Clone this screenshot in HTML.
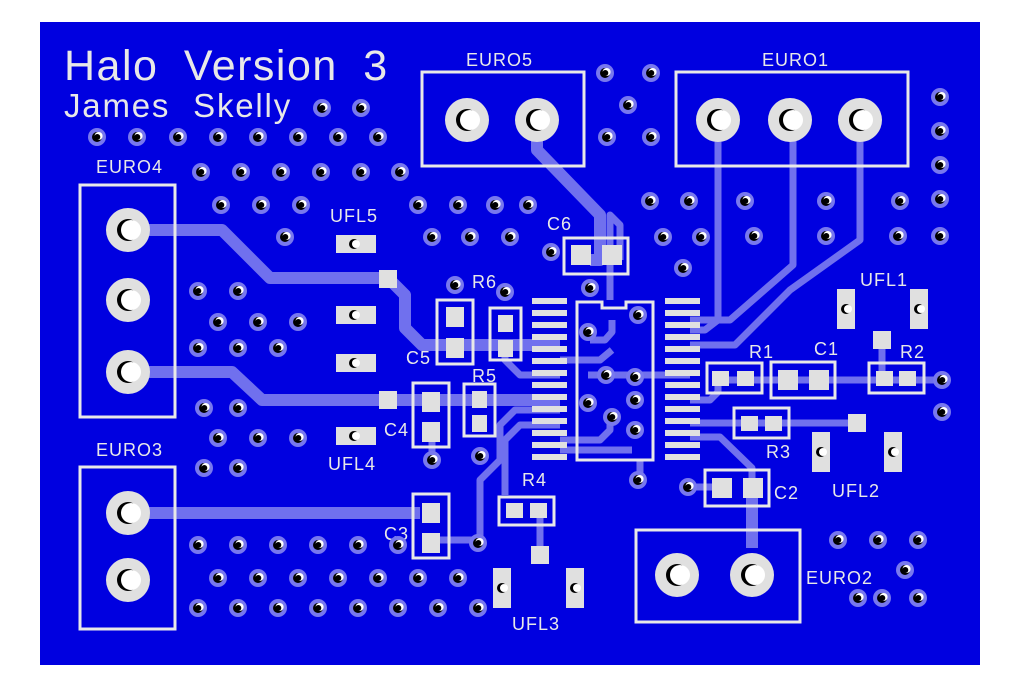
<!DOCTYPE html>
<html><head><meta charset="utf-8"><style>
html,body{margin:0;padding:0;background:#fff;}
svg{display:block;}
text{font-family:"Liberation Sans",sans-serif;fill:#e8e8e8;}
</style></head><body>
<svg width="1015" height="699" viewBox="0 0 1015 699" xmlns="http://www.w3.org/2000/svg">
<defs>
<g id="v"><circle r="9" fill="#7878ee"/><circle r="5" fill="#000"/><circle cx="1.6" cy="-1" r="4" fill="#fff"/><circle cx="0.3" cy="0" r="3" fill="#000"/></g>
<g id="P"><circle r="22" fill="#e0e0e0"/><circle r="11" fill="#000"/><circle cx="3" cy="0" r="10" fill="#fff"/></g>
<g id="h"><circle r="5" fill="#000"/><circle cx="2" cy="0" r="4" fill="#fff"/></g>
</defs>
<rect x="40" y="22" width="940" height="643" fill="#0000e0"/>

<!-- traces -->
<g fill="none" stroke="#7070ee" stroke-width="12" stroke-linejoin="round">
<path d="M128 230 H222 L270 278 H388 L405 295 V328 L422 345 H560"/>
<path d="M128 372 H232 L262 400 H560"/>
<path d="M128 513 H420"/>
<path d="M537 122 V150 L600 215 V260 H590"/>
<path d="M752 548 V490"/>
</g>
<g fill="none" stroke="#7070ee" stroke-width="7" stroke-linejoin="round">
<path d="M718 120 V320 L705 330 H690"/>
<path d="M793 120 V265 L730 320 H690"/>
<path d="M860 120 V240 L790 290 L735 345 H690"/>
<path d="M718 380 V392 L710 400 H690"/>
<path d="M720 380 H945"/>
<path d="M690 423 H860"/>
<path d="M690 437 H720 L752 468 V490"/>
<path d="M505 345 V360 L520 375 H560"/>
<path d="M560 410 H515 L500 425 V460 L480 480 V540 H440"/>
<path d="M560 425 H520 L505 440 V495"/>
<path d="M620 260 V225 L610 215 V300"/>
<path d="M590 340 H605 L612 332 V320"/>
<path d="M560 360 H600 L612 350"/>
<path d="M610 410 V430 L600 440 H560"/>
<path d="M632 450 H560"/>
<path d="M588 375 H690"/>
<path d="M882 340 V380"/>
<path d="M540 510 V555"/>
<path d="M432 440 V460"/>
<path d="M690 487 H720"/>
<path d="M640 460 V478"/>
</g>

<!-- text -->
<text x="64" y="80" font-size="43" letter-spacing="1.5" word-spacing="12">Halo Version 3</text>
<text x="64" y="117" font-size="33" letter-spacing="1.8" word-spacing="12">James Skelly</text>
<g font-size="18" letter-spacing="1">
<text x="96" y="173">EURO4</text>
<text x="96" y="456">EURO3</text>
<text x="466" y="66">EURO5</text>
<text x="762" y="66">EURO1</text>
<text x="806" y="584">EURO2</text>
<text x="330" y="222">UFL5</text>
<text x="328" y="470">UFL4</text>
<text x="512" y="630">UFL3</text>
<text x="860" y="286">UFL1</text>
<text x="832" y="497">UFL2</text>
<text x="547" y="230">C6</text>
<text x="472" y="288">R6</text>
<text x="406" y="364">C5</text>
<text x="472" y="382">R5</text>
<text x="384" y="436">C4</text>
<text x="384" y="540">C3</text>
<text x="522" y="486">R4</text>
<text x="749" y="358">R1</text>
<text x="814" y="355">C1</text>
<text x="900" y="358">R2</text>
<text x="766" y="458">R3</text>
<text x="774" y="499">C2</text>
</g>

<!-- silk outlines -->
<g fill="none" stroke="#e8e8e8" stroke-width="3">
<rect x="80" y="185" width="95" height="232"/>
<rect x="80" y="467" width="95" height="162"/>
<rect x="422" y="72" width="162" height="94"/>
<rect x="676" y="72" width="232" height="94"/>
<rect x="636" y="530" width="164" height="92"/>
<rect x="564" y="238" width="64" height="36"/>
<rect x="437" y="300" width="36" height="64"/>
<rect x="490" y="308" width="31" height="52"/>
<rect x="413" y="383" width="36" height="64"/>
<rect x="464" y="384" width="31" height="52"/>
<rect x="413" y="494" width="36" height="64"/>
<rect x="499" y="497" width="55" height="28"/>
<path d="M577 302 H602 V308 H626 V302 H653 V460 H577 Z"/>
<rect x="707" y="363" width="55" height="30"/>
<rect x="771" y="362" width="64" height="36"/>
<rect x="869" y="363" width="55" height="30"/>
<rect x="734" y="408" width="55" height="30"/>
<rect x="705" y="470" width="64" height="36"/>
</g>
<!-- IC pins -->
<g fill="#e0e0e0">
<rect x="532" y="298" width="35" height="6"/><rect x="532" y="310" width="35" height="6"/><rect x="532" y="322" width="35" height="6"/><rect x="532" y="334" width="35" height="6"/><rect x="532" y="346" width="35" height="6"/><rect x="532" y="358" width="35" height="6"/><rect x="532" y="370" width="35" height="6"/><rect x="532" y="382" width="35" height="6"/><rect x="532" y="394" width="35" height="6"/><rect x="532" y="406" width="35" height="6"/><rect x="532" y="418" width="35" height="6"/><rect x="532" y="430" width="35" height="6"/><rect x="532" y="442" width="35" height="6"/><rect x="532" y="454" width="35" height="6"/>
<rect x="665" y="298" width="35" height="6"/><rect x="665" y="310" width="35" height="6"/><rect x="665" y="322" width="35" height="6"/><rect x="665" y="334" width="35" height="6"/><rect x="665" y="346" width="35" height="6"/><rect x="665" y="358" width="35" height="6"/><rect x="665" y="370" width="35" height="6"/><rect x="665" y="382" width="35" height="6"/><rect x="665" y="394" width="35" height="6"/><rect x="665" y="406" width="35" height="6"/><rect x="665" y="418" width="35" height="6"/><rect x="665" y="430" width="35" height="6"/><rect x="665" y="442" width="35" height="6"/><rect x="665" y="454" width="35" height="6"/>
<!-- SMD pads -->
<rect x="571" y="245" width="20" height="20"/><rect x="602" y="245" width="20" height="20"/>
<rect x="446" y="307" width="18" height="20"/><rect x="446" y="338" width="18" height="20"/>
<rect x="498" y="315" width="15" height="17"/><rect x="498" y="340" width="15" height="17"/>
<rect x="422" y="392" width="18" height="20"/><rect x="422" y="422" width="18" height="20"/>
<rect x="472" y="391" width="15" height="17"/><rect x="472" y="415" width="15" height="17"/>
<rect x="422" y="503" width="18" height="20"/><rect x="422" y="533" width="18" height="20"/>
<rect x="506" y="503" width="17" height="15"/><rect x="530" y="503" width="17" height="15"/>
<rect x="712" y="371" width="17" height="15"/><rect x="737" y="371" width="17" height="15"/>
<rect x="778" y="370" width="20" height="20"/><rect x="809" y="370" width="20" height="20"/>
<rect x="876" y="371" width="17" height="15"/><rect x="899" y="371" width="17" height="15"/>
<rect x="741" y="416" width="17" height="15"/><rect x="765" y="416" width="17" height="15"/>
<rect x="712" y="478" width="20" height="20"/><rect x="743" y="478" width="20" height="20"/>
<!-- square test pads -->
<rect x="379" y="270" width="18" height="18"/><rect x="379" y="391" width="18" height="18"/>
<rect x="873" y="331" width="18" height="18"/><rect x="848" y="414" width="18" height="18"/>
<rect x="531" y="546" width="18" height="18"/>
<!-- UFL pads -->
<rect x="336" y="235" width="40" height="18"/><rect x="336" y="306" width="40" height="18"/><rect x="336" y="354" width="40" height="18"/><rect x="336" y="427" width="40" height="18"/>
<rect x="837" y="289" width="18" height="40"/><rect x="910" y="289" width="18" height="40"/>
<rect x="812" y="432" width="18" height="40"/><rect x="884" y="432" width="18" height="40"/>
<rect x="493" y="568" width="18" height="40"/><rect x="566" y="568" width="18" height="40"/>
</g>
<g>
<use href="#h" x="354" y="244"/><use href="#h" x="354" y="315"/><use href="#h" x="354" y="363"/><use href="#h" x="354" y="436"/>
<use href="#h" x="846" y="309"/><use href="#h" x="919" y="309"/><use href="#h" x="821" y="452"/><use href="#h" x="893" y="452"/>
<use href="#h" x="502" y="588"/><use href="#h" x="575" y="588"/>
</g>

<!-- big pads -->
<use href="#P" x="128" y="230"/><use href="#P" x="128" y="300"/><use href="#P" x="128" y="372"/>
<use href="#P" x="128" y="513"/><use href="#P" x="128" y="580"/>
<use href="#P" x="467" y="120"/><use href="#P" x="537" y="120"/>
<use href="#P" x="718" y="120"/><use href="#P" x="790" y="120"/><use href="#P" x="860" y="120"/>
<use href="#P" x="677" y="575"/><use href="#P" x="752" y="575"/>

<!-- vias -->
<g>
<use href="#v" x="322" y="108"/><use href="#v" x="361" y="108"/>
<use href="#v" x="97" y="137"/><use href="#v" x="137" y="137"/><use href="#v" x="178" y="137"/><use href="#v" x="218" y="137"/><use href="#v" x="258" y="137"/><use href="#v" x="298" y="137"/><use href="#v" x="338" y="137"/><use href="#v" x="378" y="137"/>
<use href="#v" x="201" y="172"/><use href="#v" x="241" y="172"/><use href="#v" x="281" y="172"/><use href="#v" x="321" y="172"/><use href="#v" x="361" y="172"/><use href="#v" x="400" y="172"/>
<use href="#v" x="221" y="205"/><use href="#v" x="261" y="205"/><use href="#v" x="301" y="205"/><use href="#v" x="418" y="205"/><use href="#v" x="458" y="205"/><use href="#v" x="495" y="205"/><use href="#v" x="528" y="205"/>
<use href="#v" x="285" y="237"/><use href="#v" x="432" y="237"/><use href="#v" x="470" y="237"/><use href="#v" x="510" y="237"/><use href="#v" x="551" y="252"/>
<use href="#v" x="605" y="73"/><use href="#v" x="651" y="73"/><use href="#v" x="628" y="105"/><use href="#v" x="607" y="137"/><use href="#v" x="651" y="137"/>
<use href="#v" x="940" y="97"/><use href="#v" x="940" y="131"/><use href="#v" x="940" y="165"/><use href="#v" x="940" y="199"/><use href="#v" x="940" y="236"/>
<use href="#v" x="650" y="201"/><use href="#v" x="689" y="201"/><use href="#v" x="663" y="237"/><use href="#v" x="701" y="237"/><use href="#v" x="683" y="268"/>
<use href="#v" x="745" y="201"/><use href="#v" x="826" y="201"/><use href="#v" x="900" y="201"/><use href="#v" x="754" y="236"/><use href="#v" x="826" y="236"/><use href="#v" x="898" y="236"/>
<use href="#v" x="455" y="285"/><use href="#v" x="505" y="292"/><use href="#v" x="590" y="288"/>
<use href="#v" x="198" y="291"/><use href="#v" x="238" y="291"/><use href="#v" x="218" y="322"/><use href="#v" x="258" y="322"/><use href="#v" x="298" y="322"/><use href="#v" x="198" y="348"/><use href="#v" x="238" y="348"/><use href="#v" x="278" y="348"/>
<use href="#v" x="204" y="408"/><use href="#v" x="238" y="408"/><use href="#v" x="218" y="438"/><use href="#v" x="258" y="438"/><use href="#v" x="298" y="438"/><use href="#v" x="204" y="468"/><use href="#v" x="238" y="468"/>
<use href="#v" x="638" y="315"/><use href="#v" x="588" y="332"/><use href="#v" x="606" y="375"/><use href="#v" x="635" y="377"/><use href="#v" x="635" y="400"/><use href="#v" x="588" y="403"/><use href="#v" x="612" y="417"/><use href="#v" x="635" y="430"/>
<use href="#v" x="432" y="460"/><use href="#v" x="480" y="456"/><use href="#v" x="638" y="480"/><use href="#v" x="688" y="487"/>
<use href="#v" x="942" y="380"/><use href="#v" x="942" y="412"/>
<use href="#v" x="478" y="543"/>
<use href="#v" x="198" y="545"/><use href="#v" x="238" y="545"/><use href="#v" x="278" y="545"/><use href="#v" x="318" y="545"/><use href="#v" x="358" y="545"/><use href="#v" x="398" y="545"/>
<use href="#v" x="218" y="578"/><use href="#v" x="258" y="578"/><use href="#v" x="298" y="578"/><use href="#v" x="338" y="578"/><use href="#v" x="378" y="578"/><use href="#v" x="418" y="578"/><use href="#v" x="458" y="578"/>
<use href="#v" x="198" y="608"/><use href="#v" x="238" y="608"/><use href="#v" x="278" y="608"/><use href="#v" x="318" y="608"/><use href="#v" x="358" y="608"/><use href="#v" x="398" y="608"/><use href="#v" x="438" y="608"/><use href="#v" x="478" y="608"/>
<use href="#v" x="838" y="540"/><use href="#v" x="878" y="540"/><use href="#v" x="918" y="540"/><use href="#v" x="905" y="570"/><use href="#v" x="858" y="598"/><use href="#v" x="882" y="598"/><use href="#v" x="918" y="598"/>
</g>
</svg>
</body></html>
